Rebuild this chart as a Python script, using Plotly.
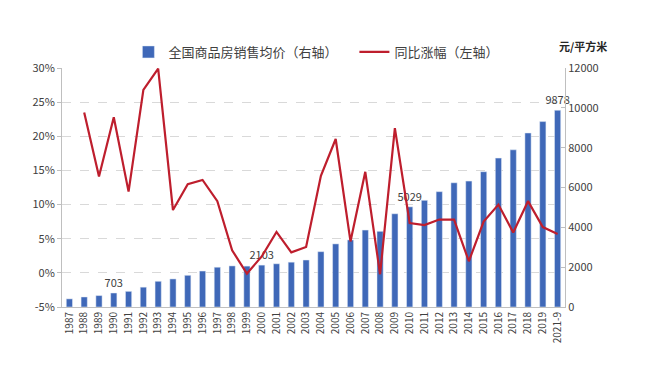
import plotly.graph_objects as go

years = ["1987","1988","1989","1990","1991","1992","1993","1994","1995","1996",
         "1997","1998","1999","2000","2001","2002","2003","2004","2005","2006",
         "2007","2008","2009","2010","2011","2012","2013","2014","2015","2016",
         "2017","2018","2019","2021-9"]
price = [408, 503, 573, 703, 786, 995, 1291, 1409, 1591, 1806,
         1997, 2063, 2053, 2103, 2170, 2250, 2359, 2778, 3168, 3367,
         3864, 3800, 4681, 5029, 5357, 5791, 6237, 6324, 6793, 7476,
         7892, 8737, 9310, 9878]
growth = [None, 23.5, 14.1, 22.8, 11.9, 26.8, 29.9, 9.2, 13.0, 13.6,
          10.5, 3.3, -0.1, 2.4, 6.0, 3.0, 3.8, 14.2, 19.6, 4.6,
          14.8, -0.2, 21.2, 7.3, 7.0, 7.8, 7.8, 1.7, 7.5, 10.0,
          5.9, 10.5, 6.7, 5.7]
labeled = ["1990", "2000", "2010", "2021-9"]
left_ticks = [-5, 0, 5, 10, 15, 20, 25, 30]
left_ticktext = ["-5%", "0%", "5%", "10%", "15%", "20%", "25%", "30%"]
right_ticks = [0, 2000, 4000, 6000, 8000, 10000, 12000]

bar_text = [str(p) if y in labeled else "" for y, p in zip(years, price)]

FONT = "Noto Sans CJK SC, Noto Sans, sans-serif"
TXT = "#404040"
AX = "#BFBFBF"

fig = go.Figure()
fig.add_trace(go.Bar(
    x=years, y=price, yaxis="y",
    name="全国商品房销售均价（右轴）",
    marker=dict(color="#3F68B8"),
    width=0.42,
    text=bar_text, textposition="outside", cliponaxis=False,
    constraintext="none",
    textfont=dict(size=11, color=TXT, family=FONT),
))
fig.add_trace(go.Scatter(
    x=years, y=growth, yaxis="y2",
    name="同比涨幅（左轴）", mode="lines",
    line=dict(color="#BE1E2D", width=2.2),
    connectgaps=False,
))

# page body has an 8px margin: size the figure so the plot area lands right
fig.update_layout(
    width=651, height=371,
    margin=dict(l=54, r=94, t=60, b=72),
    paper_bgcolor="white", plot_bgcolor="white",
    font=dict(family=FONT, size=11, color=TXT),
    showlegend=True,
    legend=dict(orientation="h", x=0.132, y=1.067, xanchor="left", yanchor="middle",
                font=dict(size=13, color=TXT, family=FONT), bgcolor="rgba(0,0,0,0)",
                traceorder="normal", itemwidth=30, entrywidth=181,
                entrywidthmode="pixels"),
    xaxis=dict(type="category", categoryorder="array", categoryarray=years,
               showline=True, linecolor=AX, linewidth=1,
               ticks="", tickangle=-90, tickfont=dict(size=10, color=TXT),
               showgrid=False, anchor="y", range=[-0.5, len(years) - 0.5]),
    xaxis2=dict(type="category", categoryorder="array", categoryarray=years,
                overlaying="x", matches="x", anchor="free", position=1/7,
                showline=True, linecolor=AX, linewidth=1,
                ticks="outside", tickson="boundaries", ticklen=4, tickcolor=AX,
                showticklabels=False, showgrid=False),
    yaxis=dict(range=[0, 12000], tickvals=right_ticks, tickformat="d", side="right",
               showgrid=False, showline=True, linecolor=AX, linewidth=1,
               ticks="inside", ticklen=4, tickcolor=AX,
               tickfont=dict(size=11, color=TXT), zeroline=False),
    yaxis2=dict(range=[-5, 30], tickvals=left_ticks, ticktext=left_ticktext,
                overlaying="y", side="left",
                showgrid=True, gridcolor="#D9D9D9", griddash="dash", gridwidth=1,
                showline=True, linecolor=AX, linewidth=1,
                ticks="outside", ticklen=4, tickcolor=AX,
                tickfont=dict(size=11, color=TXT), zeroline=False),
)
fig.add_annotation(text="<b>元/平方米</b>", xref="paper", yref="paper",
                   x=1.036, y=1.0, xanchor="center", yanchor="bottom", yshift=12,
                   showarrow=False,
                   font=dict(size=11, color="#262626", family=FONT))

fig.write_html("out.html")
